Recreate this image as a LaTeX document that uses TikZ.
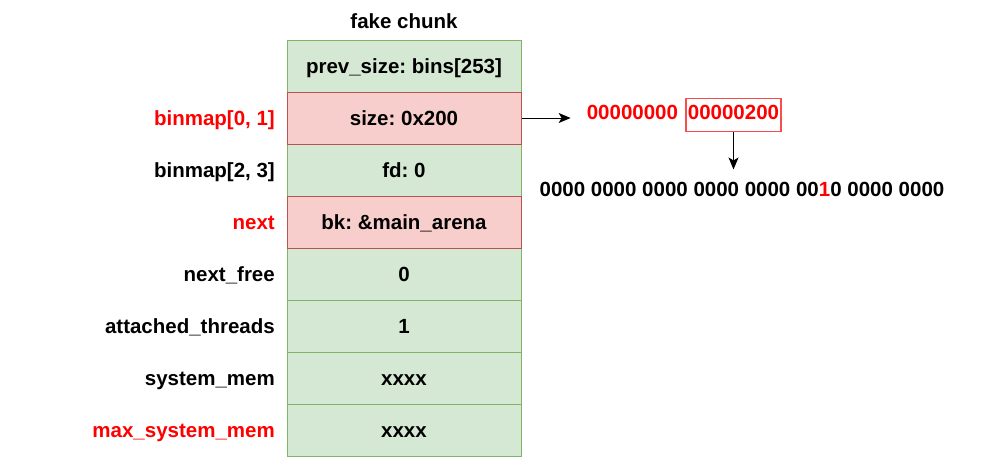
\documentclass[tikz,border=0pt]{standalone}
\usepackage{fontspec}
\setmainfont{Liberation Sans}
\usetikzlibrary{arrows.meta}
\definecolor{gfill}{HTML}{D5E8D4}
\definecolor{gline}{HTML}{82B366}
\definecolor{rfill}{HTML}{F8CECC}
\definecolor{rline}{HTML}{B85450}
\definecolor{redtxt}{HTML}{FF0000}
\definecolor{boxred}{HTML}{F54E4E}
\frenchspacing
\begin{document}
\begin{tikzpicture}[x=1pt,y=-1pt,
  font=\fontsize{20.5}{24}\selectfont\bfseries,
  every node/.style={text height=14.7pt, text depth=0pt},
  cell/.style={draw=gline, fill=gfill, line width=1pt, minimum width=234pt, minimum height=52pt, inner sep=0pt},
  redcell/.style={cell, draw=rline, fill=rfill},
  lbl/.style={anchor=east, inner sep=0pt},
  redlbl/.style={lbl, text=redtxt},
  arr/.style={-{Stealth[length=12pt,width=10pt,inset=3pt]}, line width=1pt}]
\useasboundingbox (0,0) rectangle (982,463);
\node[inner sep=0pt] (title) at (404,21) {fake chunk};
\node[cell] (r1) at (404,66) {prev\_size: bins[253]};
\node[cell] (r3) at (404,170) {fd: 0};
\node[cell] (r5) at (404,274) {0};
\node[cell] (r6) at (404,326) {1};
\node[cell] (r7) at (404,378) {xxxx};
\node[cell] (r8) at (404,430) {xxxx};
\node[redcell] (r2) at (404,118) {size: 0x200};
\node[redcell] (r4) at (404,222) {bk: \&main\_arena};
\node[redlbl] (l2) at (275,118) {binmap[0, 1]};
\node[lbl] (l3) at (275,170) {binmap[2, 3]};
\node[redlbl] (l4) at (275,222) {next};
\node[lbl] (l5) at (275,274) {next\_free};
\node[lbl] (l6) at (275,326) {attached\_threads};
\node[lbl] (l7) at (275,378) {system\_mem};
\node[redlbl] (l8) at (275,430) {max\_system\_mem};
\node[draw=boxred, line width=1.3pt, text=redtxt, text depth=5pt, inner xsep=2pt, inner ysep=0pt, minimum height=33.5pt, minimum width=95pt] (hexb) at (733.5,115) {00000200};
\node[text=redtxt, inner sep=0pt, anchor=base east] (hexa) at ([xshift=-7pt]hexb.base west) {00000000};
\node[inner sep=0pt] (bin) at (742,189) {0000 0000 0000 0000 0000 00\textcolor{redtxt}{1}0 0000 0000};
\draw[arr] (r2.east) -- ([xshift=-16pt]hexa.west |- r2.east);
\draw[arr] (hexb.south) -- ([yshift=12pt]hexb.south |- bin.north);
\end{tikzpicture}
\end{document}
